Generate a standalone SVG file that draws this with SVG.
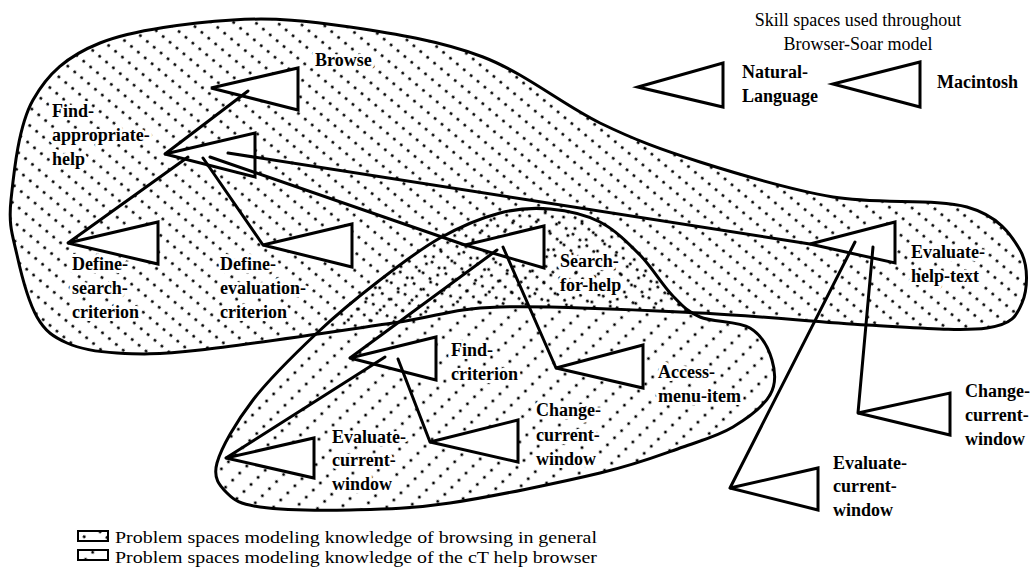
<svg xmlns="http://www.w3.org/2000/svg" width="1034" height="573" viewBox="0 0 1034 573">
<style>
.rg{stroke:#000;stroke-width:3;}
.tri{fill:#fff;stroke:#000;stroke-width:3;stroke-linejoin:miter}
.cn{stroke:#000;stroke-width:3;fill:none;stroke-linecap:round}
.lb{font-family:"Liberation Serif","Times New Roman",serif;font-weight:bold;font-size:18px;fill:#000;stroke:#fff;stroke-width:6;paint-order:stroke;stroke-linejoin:round}
.tx{font-family:"Liberation Serif","Times New Roman",serif;font-size:18px;fill:#000}
.lg{font-family:"Liberation Serif","Times New Roman",serif;font-size:16px;fill:#000}
</style>
<defs>
<pattern id="pA" width="9" height="14" patternUnits="userSpaceOnUse" patternTransform="rotate(40)"><circle cx="4.5" cy="7" r="1.5" fill="#000"/></pattern>
<pattern id="pB" width="10" height="16" patternUnits="userSpaceOnUse" patternTransform="rotate(-45)"><circle cx="5" cy="8" r="1.5" fill="#000"/></pattern>
</defs>
<rect width="1034" height="573" fill="#fff"/>
<g id="regions">
<path id="region-browsing" class="rg" fill="url(#pA)" d="M11,200 C13.7,174.2 18.2,126.2 33,100 C47.8,73.8 66.7,56.3 100,43 C133.3,29.7 191.3,22.7 233,20 C274.7,17.3 308.3,20.8 350,27 C391.7,33.2 441.3,41 483,57 C524.7,73 563.8,105.5 600,123 C636.2,140.5 661.2,149.7 700,162 C738.8,174.3 788.5,189.5 833,197 C877.5,204.5 935.8,198.2 967,207 C998.2,215.8 1010.8,234 1020,250 C1029.2,266 1027.5,290 1022,303 C1016.5,316 1012.8,324.3 987,328 C961.2,331.7 914.8,327.5 867,325 C819.2,322.5 761.2,316 700,313 C638.8,310 551.2,305.3 500,307 C448.8,308.7 443,315.8 393,323 C343,330.2 246,345 200,350 C154,355 139.2,354.2 117,353 C94.8,351.8 80.3,349 67,343 C53.7,337 45.3,331.7 37,317 C28.7,302.3 21.3,274.5 17,255 C12.7,235.5 8.3,225.8 11,200 Z"/>
<path id="region-ct" class="rg" fill="url(#pB)" d="M217,463 C221.3,447.5 236.3,421.7 253,400 C269.7,378.3 295.8,353 317,333 C338.2,313 359.5,295.8 380,280 C400.5,264.2 420,249.2 440,238 C460,226.8 481.7,217.8 500,213 C518.3,208.2 533.3,207.5 550,209 C566.7,210.5 585,214.3 600,222 C615,229.7 628,242.8 640,255 C652,267.2 662,284.7 672,295 C682,305.3 687,311.5 700,317 C713,322.5 738,320.8 750,328 C762,335.2 768.7,348.8 772,360 C775.3,371.2 776.5,383.8 770,395 C763.5,406.2 747.5,418.3 733,427 C718.5,435.7 705.2,439.3 683,447 C660.8,454.7 638.8,463.7 600,473 C561.2,482.3 491.7,496.8 450,503 C408.3,509.2 381.7,509.3 350,510 C318.3,510.7 280.5,509.8 260,507 C239.5,504.2 234.2,500.3 227,493 C219.8,485.7 212.7,478.5 217,463 Z"/>
</g>
<g id="title">
<text class="tx" x="858" y="26" text-anchor="middle">Skill spaces used throughout</text>
<text class="tx" x="858" y="50" text-anchor="middle">Browser-Soar model</text>
</g>
<g id="node-browse"><polygon class="tri" points="211,88 298,68 298,110"/><text class="lb" x="315" y="66">Browse</text></g>
<g id="node-find-appropriate-help"><polygon class="tri" points="165,154 255,133 255,177"/><text class="lb" x="52" y="117">Find-</text><text class="lb" x="52" y="141">appropriate-</text><text class="lb" x="52" y="165">help</text></g>
<g id="node-natural-language"><polygon class="tri" points="638,87 723,63 723,107"/><text class="lb" x="742" y="78">Natural-</text><text class="lb" x="742" y="102">Language</text></g>
<g id="node-macintosh"><polygon class="tri" points="833,84 920,62 920,107"/><text class="lb" x="937" y="88">Macintosh</text></g>
<g id="node-define-search-criterion"><polygon class="tri" points="68,243 158,222 158,264"/><text class="lb" x="72" y="270">Define-</text><text class="lb" x="72" y="294">search-</text><text class="lb" x="72" y="318">criterion</text></g>
<g id="node-define-evaluation-criterion"><polygon class="tri" points="263,245 352,224 352,267"/><text class="lb" x="220" y="270">Define-</text><text class="lb" x="220" y="294">evaluation-</text><text class="lb" x="220" y="318">criterion</text></g>
<g id="node-search-for-help"><polygon class="tri" points="465,245 544,226 544,268"/><text class="lb" x="560" y="267">Search-</text><text class="lb" x="560" y="291">for-help</text></g>
<g id="node-evaluate-help-text"><polygon class="tri" points="810,244 895,222 895,263"/><text class="lb" x="911" y="258">Evaluate-</text><text class="lb" x="911" y="282">help-text</text></g>
<g id="node-find-criterion"><polygon class="tri" points="350,358 436,337 436,380"/><text class="lb" x="451" y="356">Find-</text><text class="lb" x="451" y="380">criterion</text></g>
<g id="node-access-menu-item"><polygon class="tri" points="556,368 643,345 643,388"/><text class="lb" x="658" y="378">Access-</text><text class="lb" x="658" y="402">menu-item</text></g>
<g id="node-change-current-window-1"><polygon class="tri" points="430,442 518,420 518,462"/><text class="lb" x="536" y="416">Change-</text><text class="lb" x="536" y="441">current-</text><text class="lb" x="536" y="465">window</text></g>
<g id="node-evaluate-current-window-1"><polygon class="tri" points="226,458 314,438 314,478"/><text class="lb" x="332" y="443">Evaluate-</text><text class="lb" x="332" y="466">current-</text><text class="lb" x="332" y="490">window</text></g>
<g id="node-change-current-window-2"><polygon class="tri" points="858,413 950,393 950,435"/><text class="lb" x="965" y="397">Change-</text><text class="lb" x="965" y="421">current-</text><text class="lb" x="965" y="445">window</text></g>
<g id="node-evaluate-current-window-2"><polygon class="tri" points="730,488 818,468 818,510"/><text class="lb" x="833" y="469">Evaluate-</text><text class="lb" x="833" y="492">current-</text><text class="lb" x="833" y="516">window</text></g>
<g id="connectors">
<line class="cn" x1="248" y1="91" x2="165" y2="154"/>
<line class="cn" x1="188" y1="157" x2="68" y2="243"/>
<line class="cn" x1="203" y1="158" x2="263" y2="245"/>
<line class="cn" x1="210" y1="157" x2="465" y2="245"/>
<line class="cn" x1="228" y1="153" x2="810" y2="244"/>
<line class="cn" x1="497" y1="250" x2="350" y2="358"/>
<line class="cn" x1="503" y1="247" x2="556" y2="368"/>
<line class="cn" x1="385" y1="357" x2="226" y2="458"/>
<line class="cn" x1="398" y1="359" x2="430" y2="442"/>
<line class="cn" x1="855" y1="242" x2="730" y2="488"/>
<line class="cn" x1="873" y1="247" x2="858" y2="413"/>
</g>
<g id="legend">
<rect x="78" y="531" width="30" height="10" fill="url(#pA)" stroke="#000" stroke-width="2"/>
<rect x="78" y="550" width="30" height="10" fill="url(#pB)" stroke="#000" stroke-width="2"/>
<text class="lg" x="115" y="543" textLength="482" lengthAdjust="spacingAndGlyphs">Problem spaces modeling knowledge of browsing in general</text>
<text class="lg" x="115" y="563" textLength="482" lengthAdjust="spacingAndGlyphs">Problem spaces modeling knowledge of the cT help browser</text>
</g>
</svg>
